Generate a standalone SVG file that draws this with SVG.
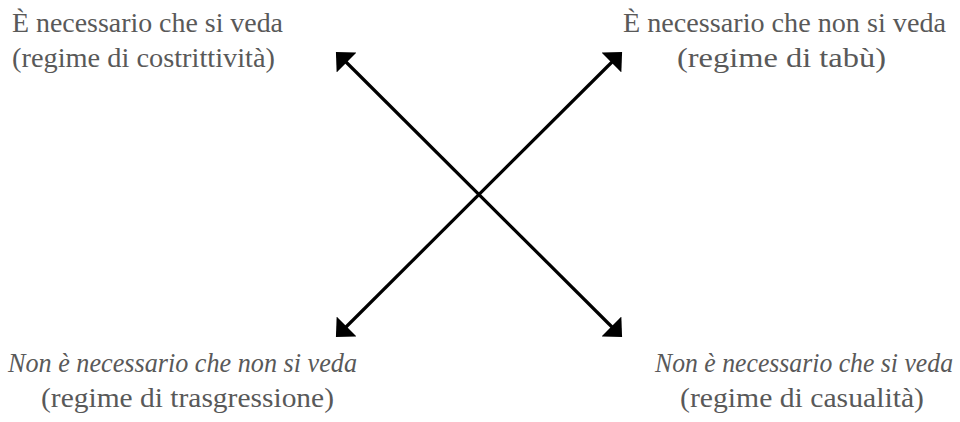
<svg xmlns="http://www.w3.org/2000/svg" width="960" height="422" viewBox="0 0 960 422">
<style>
.t{font-family:"Liberation Serif","DejaVu Serif",serif;font-size:26.5px;fill:#595959;text-anchor:middle}
.i{font-style:italic}
.c{stroke:#000;stroke-width:3.2;fill:none}
</style>
<defs>
<marker id="ah" viewBox="0 0 10 10" refX="3.33" refY="5" markerWidth="15" markerHeight="28" markerUnits="userSpaceOnUse" orient="auto-start-reverse" preserveAspectRatio="none">
<path d="M0,0 L10,5 L0,10 Z" fill="#000"/>
</marker>
</defs>
<rect width="960" height="422" fill="#fff"/>
<g id="connectors">
<line class="c" x1="343" y1="59" x2="615" y2="330" marker-start="url(#ah)" marker-end="url(#ah)"/>
<line class="c" x1="615" y1="59" x2="343" y2="330" marker-start="url(#ah)" marker-end="url(#ah)"/>
</g>
<g id="n1">
<text class="t" x="147.5" y="32" textLength="271" lengthAdjust="spacingAndGlyphs">È necessario che si veda</text>
<text class="t" x="143.5" y="67" textLength="263" lengthAdjust="spacingAndGlyphs">(regime di costrittività)</text>
</g>
<g id="n2">
<text class="t" x="784.5" y="32" textLength="323" lengthAdjust="spacingAndGlyphs">È necessario che non si veda</text>
<text class="t" x="781.5" y="67" textLength="209" lengthAdjust="spacingAndGlyphs">(regime di tabù)</text>
</g>
<g id="n3">
<text class="t i" x="182.5" y="372" textLength="349" lengthAdjust="spacingAndGlyphs">Non è necessario che non si veda</text>
<text class="t" x="187.5" y="407" textLength="293" lengthAdjust="spacingAndGlyphs">(regime di trasgressione)</text>
</g>
<g id="n4">
<text class="t i" x="804" y="372" textLength="298" lengthAdjust="spacingAndGlyphs">Non è necessario che si veda</text>
<text class="t" x="802" y="407" textLength="244" lengthAdjust="spacingAndGlyphs">(regime di casualità)</text>
</g>
</svg>
